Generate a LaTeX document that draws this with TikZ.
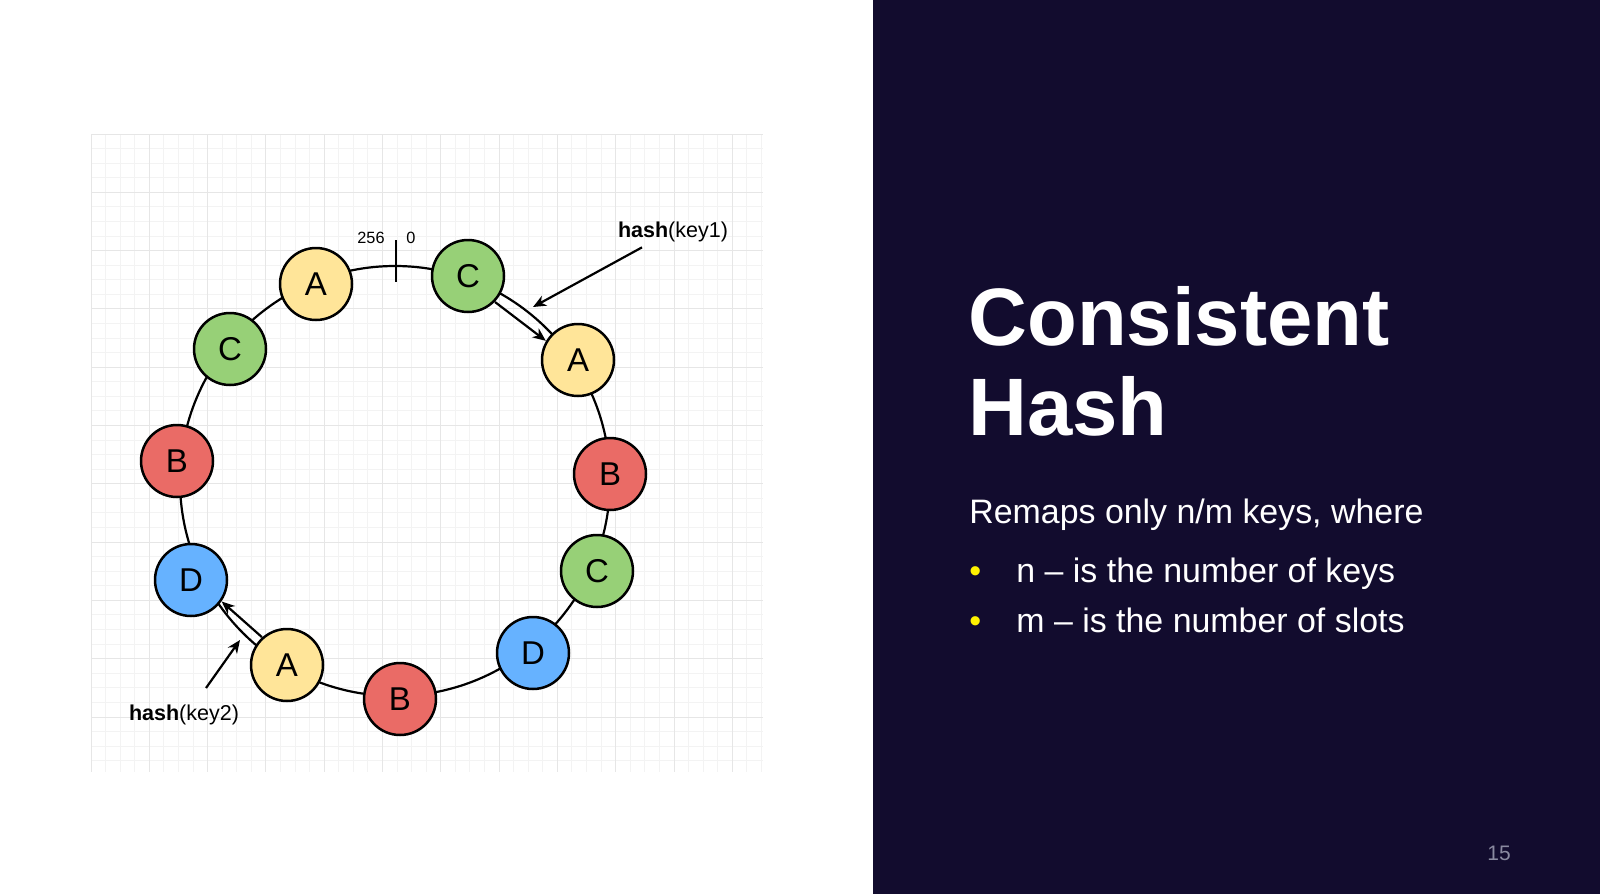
\documentclass[tikz,border=0pt]{standalone}
\usepackage{fontspec}
\setmainfont{Liberation Sans}
\usetikzlibrary{arrows.meta,positioning}

\definecolor{slotyellow}{HTML}{FFE599}
\definecolor{slotgreen}{HTML}{97D077}
\definecolor{slotred}{HTML}{EA6B66}
\definecolor{slotblue}{HTML}{66B2FF}
\definecolor{panelnavy}{HTML}{120C2E}
\definecolor{gridminor}{HTML}{F3F3F3}
\definecolor{gridmajor}{HTML}{E6E6E6}
\definecolor{pagegrey}{HTML}{8A8AA0}

\begin{document}
\begin{tikzpicture}[x=0.5pt, y=-0.5pt,
            slot/.style={circle, draw, line width=1.25pt, minimum size=36pt, inner sep=0pt, font=\fontsize{16.5}{18}\selectfont},
            slotA/.style={slot, fill=slotyellow},
            slotB/.style={slot, fill=slotred},
            slotC/.style={slot, fill=slotgreen},
            slotD/.style={slot, fill=slotblue},
            ring/.style={line width=1.1pt},
            pointer/.style={-{Stealth[length=6.5pt,width=5.5pt,inset=2pt]}, line width=1.1pt},
            hashnote/.style={inner sep=0pt, font=\fontsize{10.75}{12}\selectfont},
            ticknote/.style={inner sep=0pt, font=\fontsize{8.15}{9}\selectfont},
            titletext/.style={inner sep=0pt, text=white, font=\bfseries\fontsize{40.75}{45}\selectfont},
            bodytext/.style={inner sep=0pt, text=white, font=\fontsize{16.95}{19}\selectfont},
            minorline/.style={draw=gridminor, line width=0.5pt},
            majorline/.style={draw=gridmajor, line width=0.5pt}
        ]

        \useasboundingbox (0,0) rectangle (1600,894);
        \fill[white] (0,0) rectangle (873,894);
        \fill[panelnavy] (873,0) rectangle (1600,894);

        % Grid paper
        \foreach \i in {0,...,46} \draw[minorline] ({91+\i*14.575},134) -- ({91+\i*14.575},772);
        \foreach \j in {0,...,43} \draw[minorline] (91,{134+\j*14.575}) -- (763,{134+\j*14.575});
        \foreach \i in {0,...,11} \draw[majorline] ({91+\i*58.3},134) -- ({91+\i*58.3},772);
        \foreach \j in {0,...,10} \draw[majorline] (91,{134+\j*58.3}) -- (763,{134+\j*58.3});

        % Hash ring
        \coordinate (hub) at (395,481);
        \draw[ring] (hub) circle[radius=107.5pt];
        \draw[ring] (396,240) -- (396,282);
        \node[ticknote, anchor=base] (wrap) at (371,243) {256};
        \node[ticknote, anchor=base] (zero) at (411,243) {0};

        \node[slotA] (a1) at (316,284) {A};
        \node[slotC] (c1) at (468,276) {C};
        \node[slotA] (a2) at (578,360) {A};
        \node[slotB] (b1) at (610,474) {B};
        \node[slotC] (c2) at (597,571) {C};
        \node[slotD] (d1) at (533,653) {D};
        \node[slotB] (b2) at (400,699) {B};
        \node[slotA] (a3) at (287,665) {A};
        \node[slotD] (d2) at (191,580) {D};
        \node[slotB] (b3) at (177,461) {B};
        \node[slotC] (c3) at (230,349) {C};

        % Keys moving to next slot
        \draw[pointer, transform canvas={shift={(-1.3pt,-1.7pt)}}] (c1) -- (a2);
        \draw[pointer, transform canvas={shift={(1.4pt,1.6pt)}}] (a3) -- (d2);

        \node[hashnote, anchor=base] (key1) at (673,237) {\textbf{hash}(key1)};
        \coordinate (hit1) at (533,307);
        \draw[pointer] ([xshift=-15.5pt,yshift=-2.75pt]key1.south) -- (hit1);

        \node[hashnote, anchor=base] (key2) at (184,720) {\textbf{hash}(key2)};
        \coordinate (hit2) at (240,640);
        \draw[pointer] ([xshift=11pt,yshift=8pt]key2.north) -- (hit2);

        % Slide text
        \node[titletext, anchor=base west] (title) at (968,345) {Consistent};
        \node[titletext, anchor=base west] (title2) at (968,435) {Hash};
        \node[bodytext, anchor=base west] (remaps) at (969,523) {Remaps only n/m keys, where};
        \node[bodytext, text=yellow, anchor=base west] (dot1) at (969,582) {•};
        \node[bodytext, anchor=base west] (keys) at (1016,582) {n – is the number of keys};
        \node[bodytext, text=yellow, anchor=base west] (dot2) at (969,632) {•};
        \node[bodytext, anchor=base west] (slots) at (1016,632) {m – is the number of slots};
        \node[inner sep=0pt, text=pagegrey, font=\fontsize{10.5}{12}\selectfont, anchor=base] (page) at (1499,860) {15};

    \end{tikzpicture}
\end{document}
